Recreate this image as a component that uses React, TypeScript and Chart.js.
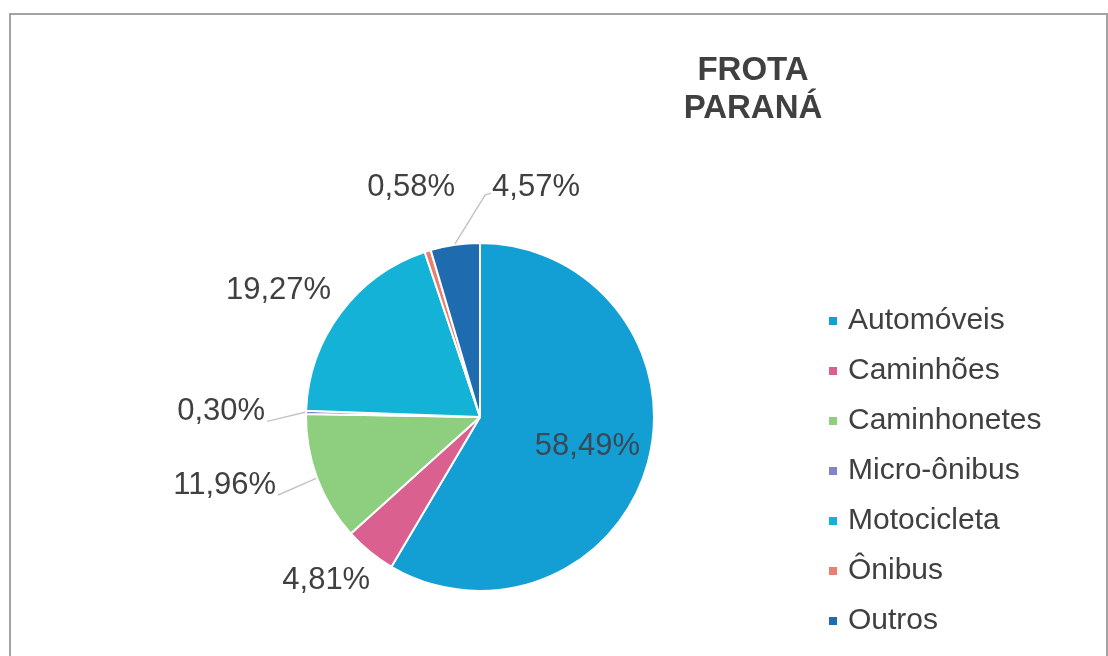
import React, { useEffect, useRef } from "react";
import { Chart, registerables } from "chart.js";

Chart.register(...registerables);

const categories = ["Automóveis", "Caminhões", "Caminhonetes", "Micro-ônibus", "Motocicleta", "Ônibus", "Outros"];
const shares = [58.49, 4.81, 11.96, 0.3, 19.27, 0.58, 4.57];
const sliceColors = ["#139fd3", "#d9608f", "#8dcf7e", "#7f85c8", "#14b2d6", "#e9806f", "#1e6bb0"];
const titleLines = ["FROTA", "PARANÁ"];

const TEXT = "#404040";
const FONT = '"Liberation Sans", Arial, sans-serif';

const fmt = (v: number) => v.toFixed(2).replace(".", ",") + "%";

const decorPlugin = {
  id: "decor",
  afterDatasetsDraw(chart: any) {
    const ctx = chart.ctx as CanvasRenderingContext2D;
    const meta = chart.getDatasetMeta(0);
    const data = chart.data.datasets[0].data as number[];
    ctx.save();
    ctx.font = `31px ${FONT}`;
    ctx.textAlign = "center";
    ctx.textBaseline = "middle";
    const placed: { l: number; r: number; t: number; b: number; cy: number }[] = [];
    meta.data.forEach((arc: any, i: number) => {
      const p = arc.getProps(["x", "y", "startAngle", "endAngle", "outerRadius"], true);
      const mid = (p.startAngle + p.endAngle) / 2;
      const c = Math.cos(mid);
      const s = Math.sin(mid);
      const text = fmt(data[i]);
      const w = ctx.measureText(text).width;
      const h = 24;
      if (i === 0) {
        ctx.fillStyle = "#3b4858";
        ctx.fillText(text, p.x + c * p.outerRadius * 0.64, p.y + s * p.outerRadius * 0.64);
        return;
      }
      const side = Math.abs(s) < 0.5;
      const top = Math.abs(s) > 0.9;
      const ex = p.x + c * (p.outerRadius + 1);
      const ey = p.y + s * (p.outerRadius + 1);
      let cx: number;
      let cy: number;
      if (side) {
        cx = ex + Math.sign(c) * (40 + w / 2);
        cy = ey + s * 20;
      } else if (top) {
        cx = p.x + c * (p.outerRadius + 55);
        cy = p.y + s * (p.outerRadius + 55) + (s * h) / 2;
      } else {
        cx = p.x + c * (p.outerRadius + 25) + (c * w) / 2;
        cy = p.y + s * (p.outerRadius + 25) + (s * h) / 2;
      }
      let shifted = false;
      for (const q of placed) {
        const l = cx - w / 2, r = cx + w / 2, t = cy - h / 2, b = cy + h / 2;
        if (l < q.r && r > q.l && t < q.b && b > q.t) {
          cx = q.r + 37 + w / 2;
          cy = q.cy;
          shifted = true;
        }
      }
      placed.push({ l: cx - w / 2, r: cx + w / 2, t: cy - h / 2, b: cy + h / 2, cy });
      ctx.strokeStyle = "#c4c4c4";
      ctx.lineWidth = 1.5;
      if (shifted) {
        ctx.beginPath();
        ctx.moveTo(ex, ey);
        ctx.lineTo(cx - w / 2 - 7, cy + 8);
        ctx.lineTo(cx - w / 2 - 1, cy + 6);
        ctx.stroke();
      } else if (side) {
        const lx = c < 0 ? cx + w / 2 + 2 : cx - w / 2 - 2;
        ctx.beginPath();
        ctx.moveTo(ex, ey);
        ctx.lineTo(lx, cy + h * 0.4);
        ctx.stroke();
      }
      ctx.fillStyle = TEXT;
      ctx.fillText(text, cx, cy);
    });

    // title
    ctx.font = `bold 33px ${FONT}`;
    ctx.fillStyle = TEXT;
    titleLines.forEach((line, k) => ctx.fillText(line, 753, 71 + k * 38));

    // legend
    ctx.font = `30px ${FONT}`;
    ctx.textAlign = "left";
    const colors = chart.data.datasets[0].backgroundColor as string[];
    (chart.data.labels as string[]).forEach((lab, k) => {
      const y = 321 + k * 50;
      ctx.fillStyle = colors[k];
      ctx.fillRect(829, y - 4, 8, 8);
      ctx.fillStyle = TEXT;
      ctx.fillText(lab, 848, y);
    });
    ctx.restore();
  },
};

export default function App() {
  const ref = useRef<HTMLCanvasElement | null>(null);
  useEffect(() => {
    if (!ref.current) return;
    const chart = new Chart(ref.current, {
      type: "pie",
      data: {
        labels: categories,
        datasets: [
          {
            data: shares,
            backgroundColor: sliceColors,
            borderColor: "#ffffff",
            borderWidth: 2,
          },
        ],
      },
      options: {
        animation: false,
        responsive: false,
        devicePixelRatio: 1,
        layout: { padding: { left: 305, top: 242, right: 453, bottom: 64 } },
        plugins: { legend: { display: false }, title: { display: false }, tooltip: { enabled: false } },
      },
      plugins: [decorPlugin],
    });
    return () => chart.destroy();
  }, []);
  return (
    <div style={{ position: "fixed", inset: 0, overflow: "hidden", background: "#fff" }}>
      <div
        style={{
          position: "absolute",
          left: 9,
          top: 13,
          width: 1095,
          height: 700,
          border: "2px solid #a3a3a3",
        }}
      />
      <canvas ref={ref} width={1108} height={656} style={{ position: "absolute", left: 0, top: 0, width: 1108, height: 656 }} />
    </div>
  );
}
